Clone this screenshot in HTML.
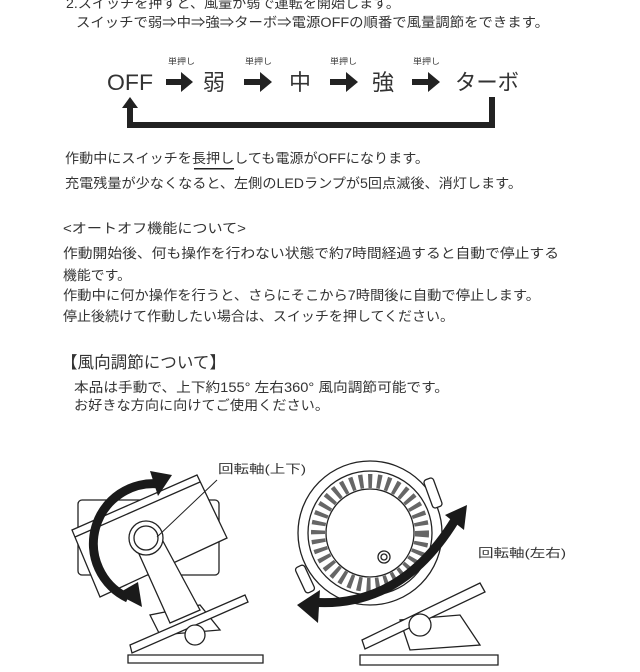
<!DOCTYPE html>
<html><head><meta charset="utf-8"><style>
html,body{margin:0;padding:0;background:#fff;}
svg{display:block}
text{font-family:"Liberation Sans","Noto Sans CJK JP",sans-serif;fill:#333;}
</style></head><body>
<svg width="640" height="672" viewBox="0 0 640 672" xmlns="http://www.w3.org/2000/svg">
<g font-size="13.5">
<text x="66" y="8" textLength="334" lengthAdjust="spacingAndGlyphs">2.スイッチを押すと、風量が弱で運転を開始します。</text>
<text x="76" y="27" textLength="473" lengthAdjust="spacingAndGlyphs">スイッチで弱⇒中⇒強⇒ターボ⇒電源OFFの順番で風量調節をできます。</text>
</g>
<g font-size="8" fill="#555">
<text x="168" y="64" textLength="27" lengthAdjust="spacingAndGlyphs">単押し</text>
<text x="245" y="64" textLength="27" lengthAdjust="spacingAndGlyphs">単押し</text>
<text x="330" y="64" textLength="27" lengthAdjust="spacingAndGlyphs">単押し</text>
<text x="413" y="64" textLength="27" lengthAdjust="spacingAndGlyphs">単押し</text>
</g>
<g font-size="22">
<text x="107" y="90" textLength="46" lengthAdjust="spacingAndGlyphs">OFF</text>
<text x="203" y="90">弱</text>
<text x="289" y="90">中</text>
<text x="372" y="90">強</text>
<text x="455" y="90" textLength="64" lengthAdjust="spacingAndGlyphs">ターボ</text>
</g>
<g fill="#222">
<path d="M166 79h15v-7l12 10-12 10v-7h-15z"/>
<path d="M244 79h16v-7l12 10-12 10v-7h-16z"/>
<path d="M330 79h16v-7l12 10-12 10v-7h-16z"/>
<path d="M412 79h16v-7l12 10-12 10v-7h-16z"/>
<path d="M489 97h6v31h-368v-20h-5l8-11 8 11h-5v14h356z"/>
</g>
<g font-size="13.5">
<text x="65" y="163" textLength="364" lengthAdjust="spacingAndGlyphs">作動中にスイッチを長押ししても電源がOFFになります。</text>
<rect x="194" y="168" width="40" height="1.5" fill="#222"/>
<text x="65" y="188" textLength="457" lengthAdjust="spacingAndGlyphs">充電残量が少なくなると、左側のLEDランプが5回点滅後、消灯します。</text>
<text x="63" y="233" textLength="183" lengthAdjust="spacingAndGlyphs">&lt;オートオフ機能について&gt;</text>
<text x="63" y="258" textLength="496" lengthAdjust="spacingAndGlyphs">作動開始後、何も操作を行わない状態で約7時間経過すると自動で停止する</text>
<text x="63" y="280" textLength="68" lengthAdjust="spacingAndGlyphs">機能です。</text>
<text x="63" y="300" textLength="477" lengthAdjust="spacingAndGlyphs">作動中に何か操作を行うと、さらにそこから7時間後に自動で停止します。</text>
<text x="63" y="321" textLength="391" lengthAdjust="spacingAndGlyphs">停止後続けて作動したい場合は、スイッチを押してください。</text>
<text x="61" y="368" font-size="16.5" textLength="165" lengthAdjust="spacingAndGlyphs">【風向調節について】</text>
<text x="74" y="392" textLength="375" lengthAdjust="spacingAndGlyphs">本品は手動で、上下約155° 左右360° 風向調節可能です。</text>
<text x="74" y="410" textLength="255" lengthAdjust="spacingAndGlyphs">お好きな方向に向けてご使用ください。</text>
<text x="218" y="473" font-size="12" textLength="88" lengthAdjust="spacingAndGlyphs">回転軸(上下)</text>
<text x="478" y="557" font-size="12" textLength="88" lengthAdjust="spacingAndGlyphs">回転軸(左右)</text>
</g>
<!-- left fan -->
<g fill="#fff" stroke="#222" stroke-width="1.3">
<rect x="78" y="500" width="141" height="75" rx="4"/>
<path d="M72 530L197 475L227 538L100 597Z"/>
<path d="M75 537L200 482"/>
<path d="M128 655h135v8h-135z"/>
<path d="M150 615l10 20 60-5-20-25z"/>
<path d="M170 623L135 545L158 532L200 610Z"/>
<circle cx="146" cy="538" r="17"/>
<circle cx="146" cy="538" r="12"/>
<path d="M130 645L245 595L248 602L132 653Z"/>
<circle cx="195" cy="635" r="10"/>
<path d="M217 480L157 537" fill="none" stroke-width="1"/>
</g>
<path d="M160 484A60 60 0 0 0 128 598" fill="none" stroke="#1a1a1a" stroke-width="9"/>
<path d="M172 475L150 471L158 496Z" fill="#1a1a1a"/>
<path d="M142 607L138 582L117 594Z" fill="#1a1a1a"/>
<!-- right fan -->
<g fill="#fff" stroke="#222" stroke-width="1.3">
<path d="M360 655h138v10h-138z"/>
<path d="M400 620l10 30 70-5-20-30z"/>
<circle cx="370" cy="533" r="72"/>
<circle cx="370" cy="533" r="62"/>
<circle cx="370" cy="533" r="52" stroke-width="14" stroke="#666" stroke-dasharray="4 5"/>
<circle cx="370" cy="533" r="44"/>
<circle cx="384" cy="557" r="6"/>
<circle cx="384" cy="557" r="3"/>
<path d="M362 640L480 583L485 592L365 649Z"/>
<circle cx="420" cy="625" r="11"/>
<rect x="428" y="478" width="10" height="30" rx="3" transform="rotate(-20 433 493)"/>
<rect x="300" y="565" width="10" height="28" rx="3" transform="rotate(-25 305 579)"/>
</g>
<path d="M310 602Q400 610 455 520" fill="none" stroke="#1a1a1a" stroke-width="9"/>
<path d="M467 505L445 515L464 530Z" fill="#1a1a1a"/>
<path d="M297 605L320 590L318 623Z" fill="#1a1a1a"/>
</svg>
</body></html>
